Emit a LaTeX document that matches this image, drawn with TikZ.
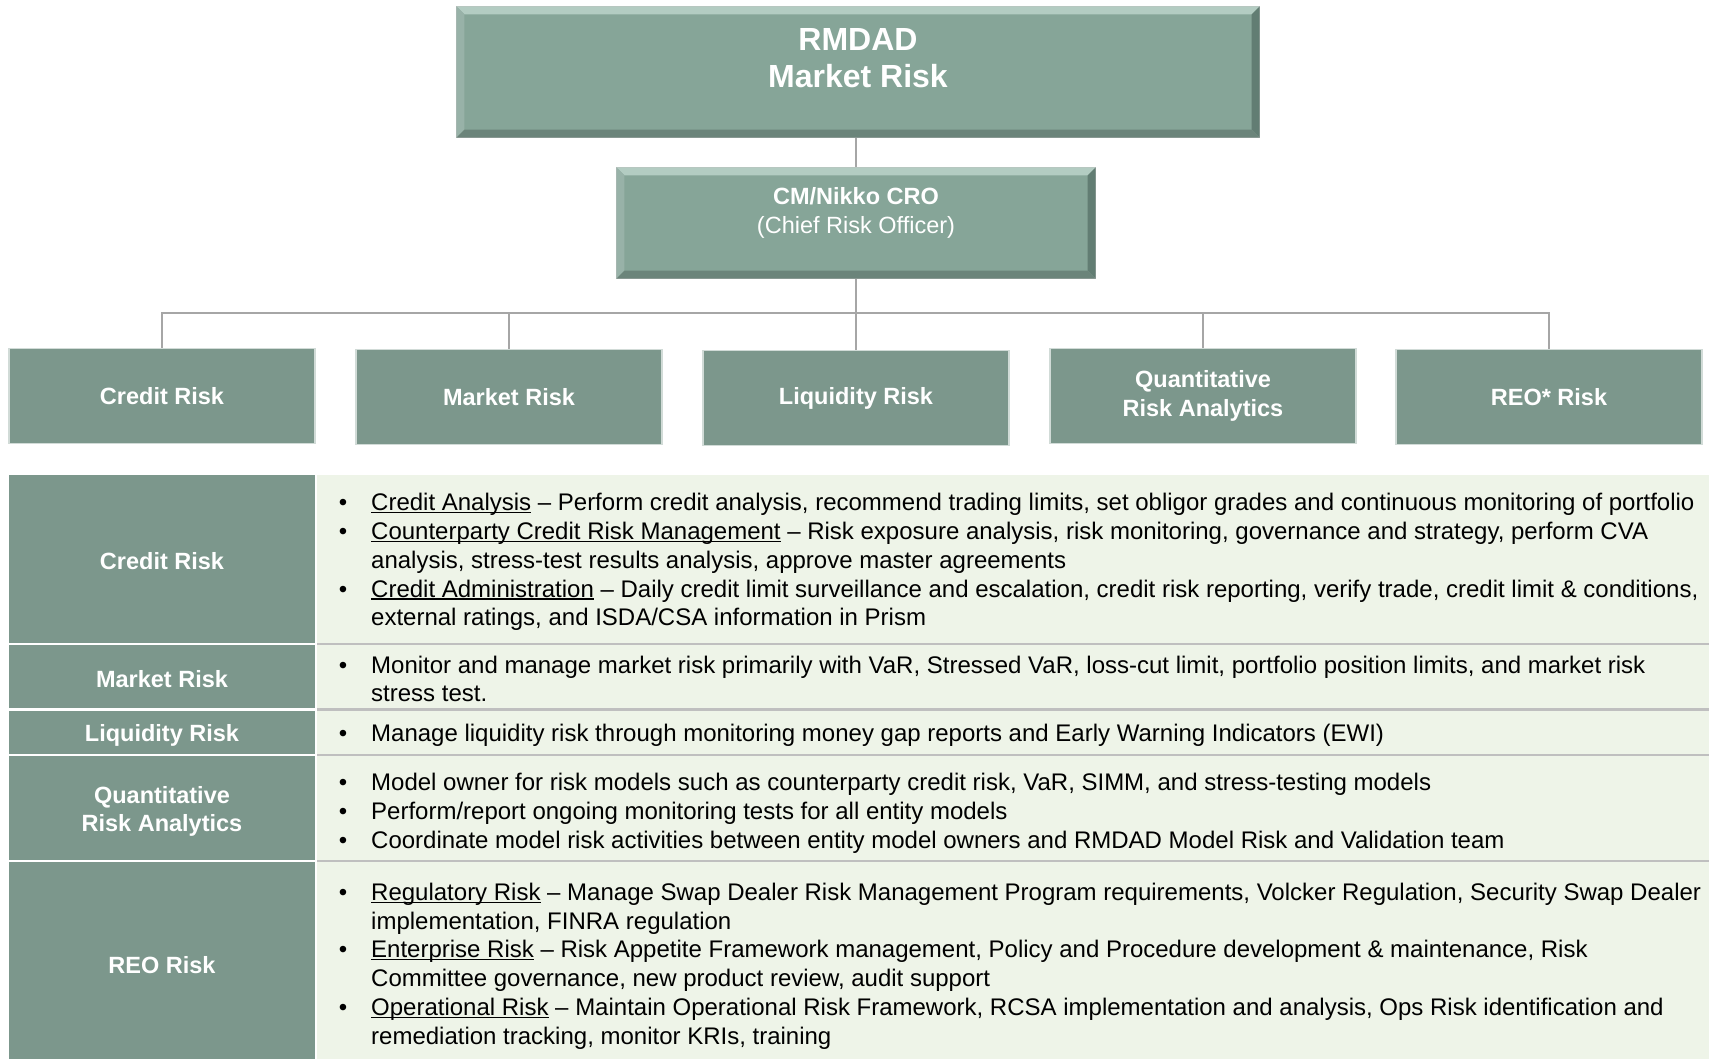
\documentclass[tikz,border=0pt]{standalone}
\usepackage{fontspec}
\setmainfont{Liberation Sans}
\usetikzlibrary{positioning}

\definecolor{headfill}{HTML}{86A598}
\definecolor{unitfill}{HTML}{7C978C}
\definecolor{cellfill}{HTML}{EEF4E8}
\definecolor{rulegray}{HTML}{BFBFBF}
\definecolor{linkgray}{HTML}{A6A6A6}
\definecolor{bevlight}{HTML}{B3CCC2}
\definecolor{bevdark}{HTML}{627D73}

\newcommand{\itemdot}{\llap{\textbullet\hspace{24pt}}}
\newcommand{\uterm}[1]{\setbox0\hbox{#1}\rlap{\rule[-2.6pt]{\wd0}{1.3pt}}\box0\relax}

\tikzset{
  headbox/.style={fill=headfill, draw=rulegray, line width=1.2pt, inner sep=0pt},
  headtext/.style={text=white, align=center, inner sep=0pt},
  unitbox/.style={fill=unitfill, draw=unitfill!35!white, line width=1.2pt,
    minimum width=306pt, minimum height=95pt, inner sep=0pt,
    text=white, align=center, font=\bfseries\fontsize{23.5}{29}\selectfont},
  rowhead/.style={text=white, align=center, inner sep=0pt,
    font=\bfseries\fontsize{23.5}{28}\selectfont},
  rowtext/.style={anchor=west, align=left, inner sep=0pt,
    font=\fontsize{24}{28.8}\selectfont},
  link/.style={draw=linkgray, line width=2.5pt}
}

\begin{document}
\begin{tikzpicture}[x=1pt, y=-1pt]
\useasboundingbox[fill=white] (0,0) rectangle (1709,1059);

% top of the chart
\node[headbox, minimum width=802pt, minimum height=130pt] (top) at (858,72) {};
\node[headbox, minimum width=478pt, minimum height=110pt] (cro) at (856,223) {};
\foreach \b in {top,cro} {
  \fill[bevlight] (\b.north west) -- (\b.north east) -- ([shift={(-8pt,-8pt)}]\b.north east) -- ([shift={(8pt,-8pt)}]\b.north west) -- cycle;
  \fill[headfill!85!white] (\b.north west) -- ([shift={(8pt,-8pt)}]\b.north west) -- ([shift={(8pt,8pt)}]\b.south west) -- (\b.south west) -- cycle;
  \fill[bevdark] (\b.north east) -- ([shift={(-8pt,-8pt)}]\b.north east) -- ([shift={(-8pt,8pt)}]\b.south east) -- (\b.south east) -- cycle;
  \fill[headfill!80!black] (\b.south west) -- ([shift={(8pt,8pt)}]\b.south west) -- ([shift={(-8pt,8pt)}]\b.south east) -- (\b.south east) -- cycle;
}
\node[headtext, font=\bfseries\fontsize{32}{37}\selectfont] (toptext) at ([yshift=14pt]top.center) {RMDAD\\Market Risk};
\node[headtext, font=\fontsize{23.5}{29}\selectfont] (crotext) at ([yshift=10pt]cro.center) {\textbf{CM/Nikko CRO}\\(Chief Risk Officer)};

% units
\node[unitbox] (u1) at (162,396) {Credit Risk};
\node[unitbox] (u2) at (509,397) {Market Risk};
\node[unitbox] (u3) at (856,398) {Liquidity Risk};
\node[unitbox] (u4) at (1203,396) {Quantitative\\Risk Analytics};
\node[unitbox] (u5) at (1549,397) {REO* Risk};

\coordinate (bus) at (856,313);
\draw[link] (cro.north |- top.south) -- (cro.north);
\foreach \u in {u1,u2,u3,u4,u5}
  \draw[link] (cro.south) |- (\u.north |- bus) -- (\u.north);

% table
\foreach \ya/\yb in {475/643, 645/708, 711/754, 756/860, 862/1059} {
  \fill[unitfill] (9,\ya) rectangle (315,\yb);
  \fill[cellfill] (317,\ya) rectangle (1709,\yb);
}
\foreach \y in {644,709.5,755,861}
  \draw[rulegray, line width=2.5pt] (317,\y) -- (1709,\y);

\node[rowhead] (h1) at (162,561) {Credit Risk};
\node[rowhead] (h2) at (162,679) {Market Risk};
\node[rowhead] (h3) at (162,735) {Liquidity Risk};
\node[rowhead] (h4) at (162,811) {Quantitative\\Risk Analytics};
\node[rowhead] (h5) at (162,965) {REO Risk};

\node[rowtext] (t1) at (371,562) {\itemdot\uterm{Credit Analysis} -- Perform credit analysis, recommend trading limits, set obligor grades and continuous monitoring of portfolio\\
\itemdot\uterm{Counterparty Credit Risk Management} -- Risk exposure analysis, risk monitoring, governance and strategy, perform CVA\\
analysis, stress-test results analysis, approve master agreements\\
\itemdot\uterm{Credit Administration} -- Daily credit limit surveillance and escalation, credit risk reporting, verify trade, credit limit \& conditions,\\
external ratings, and ISDA/CSA information in Prism};
\node[rowtext] (t2) at (371,679) {\itemdot Monitor and manage market risk primarily with VaR, Stressed VaR, loss-cut limit, portfolio position limits, and market risk\\
stress test.};
\node[rowtext] (t3) at (371,735) {\itemdot Manage liquidity risk through monitoring money gap reports and Early Warning Indicators (EWI)};
\node[rowtext] (t4) at (371,813) {\itemdot Model owner for risk models such as counterparty credit risk, VaR, SIMM, and stress-testing models\\
\itemdot Perform/report ongoing monitoring tests for all entity models\\
\itemdot Coordinate model risk activities between entity model owners and RMDAD Model Risk and Validation team};
\node[rowtext] (t5) at (371,966) {\itemdot\uterm{Regulatory Risk} -- Manage Swap Dealer Risk Management Program requirements, Volcker Regulation, Security Swap Dealer\\
implementation, FINRA regulation\\
\itemdot\uterm{Enterprise Risk} -- Risk Appetite Framework management, Policy and Procedure development \& maintenance, Risk\\
Committee governance, new product review, audit support\\
\itemdot\uterm{Operational Risk} -- Maintain Operational Risk Framework, RCSA implementation and analysis, Ops Risk identification and\\
remediation tracking, monitor KRIs, training};
\end{tikzpicture}
\end{document}
